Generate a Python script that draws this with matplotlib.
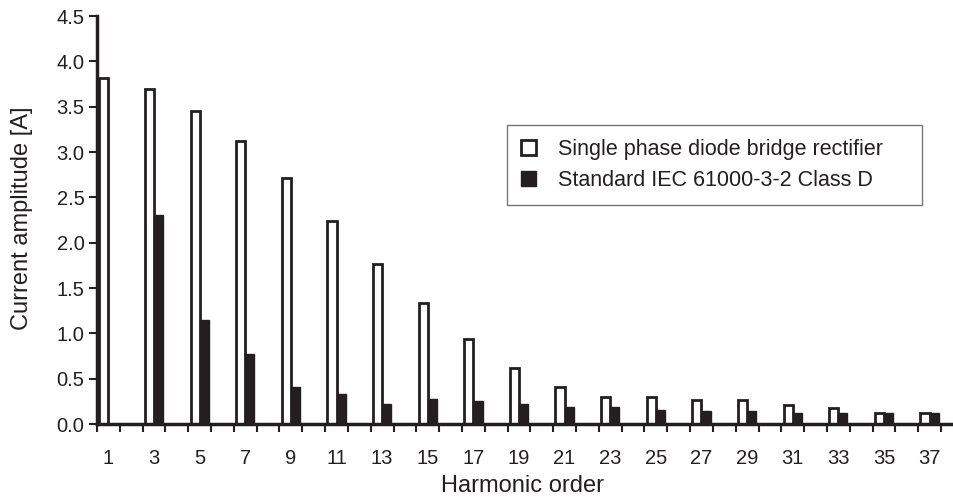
import numpy as np
import matplotlib
matplotlib.use('Agg')
from matplotlib import pyplot as plt
from matplotlib.patches import Patch

plt.rcParams['font.family'] = ['Liberation Sans', 'DejaVu Sans']

# harmonic data (odd orders only)
harmonics = [1, 3, 5, 7, 9, 11, 13, 15, 17, 19, 21, 23, 25, 27, 29, 31, 33, 35, 37]
rectifier = [3.82, 3.70, 3.45, 3.12, 2.71, 2.24, 1.77, 1.33, 0.94, 0.62,
             0.41, 0.30, 0.30, 0.27, 0.27, 0.21, 0.18, 0.12, 0.12]
iec_class_d = [0.0, 2.30, 1.15, 0.77, 0.41, 0.33, 0.22, 0.28, 0.25, 0.22,
               0.19, 0.19, 0.15, 0.14, 0.14, 0.12, 0.12, 0.12, 0.12]
yticks = [0.0, 0.5, 1.0, 1.5, 2.0, 2.5, 3.0, 3.5, 4.0, 4.5]

dark = '#231f20'

fig = plt.figure(figsize=(9.54, 5.01), dpi=100)
ax = fig.add_axes([97/954, 1-424/501, 1-97/954, (424-16)/501])

x = np.array(harmonics)
w = 0.4
ax.bar(x - w/2, rectifier, width=w, facecolor='white', edgecolor=dark, linewidth=2.0, zorder=2)
ax.bar(x + w/2, iec_class_d, width=w, facecolor=dark, edgecolor=dark, linewidth=1.0, zorder=3)

ax.set_xlim(0.5, 38.07)
ax.set_ylim(0, 4.5)
ax.set_yticks(yticks)
ax.set_yticklabels(['%.1f' % v for v in yticks])
ax.set_xticks(harmonics)
ax.set_xticklabels([str(h) for h in harmonics])
ax.set_xticks(np.arange(0.5, 38, 1.0), minor=True)
ax.tick_params(axis='x', which='major', length=0, pad=18, labelsize=14.5, colors=dark)
ax.tick_params(axis='x', which='minor', length=6, width=1.5, color=dark, direction='out')
ax.tick_params(axis='y', length=6, width=1.5, color=dark, labelsize=14.5, labelcolor=dark, pad=3)

for s in ['top', 'right']:
    ax.spines[s].set_visible(False)
for s in ['left', 'bottom']:
    ax.spines[s].set_linewidth(2.5)
    ax.spines[s].set_color(dark)

ax.set_xlabel('Harmonic order', fontsize=17, color=dark)
ax.set_ylabel('Current amplitude [A]', fontsize=17, color=dark)
ax.xaxis.set_label_coords((523-97)/(954-97), -(486-424)/408, transform=ax.transAxes)
ax.yaxis.set_label_coords(-(97-22)/(954-97), (424-218)/408, transform=ax.transAxes)
ax.xaxis.label.set_va('center')
ax.yaxis.label.set_va('center')

handles = [Patch(facecolor='white', edgecolor=dark, linewidth=2.0),
           Patch(facecolor=dark, edgecolor=dark)]
leg = fig.legend(handles, ['Single phase diode bridge rectifier', 'Standard IEC 61000-3-2 Class D'],
                 loc='upper left', mode='expand',
                 bbox_to_anchor=(507/954, 1-205/501, (922-507)/954, 80/501), fontsize=15.5,
                 frameon=True, fancybox=False, handlelength=0.7, handleheight=0.7,
                 handletextpad=1.0, borderpad=0.65, labelspacing=0.45, borderaxespad=0)
leg.get_frame().set_edgecolor('#555555')
leg.get_frame().set_linewidth(1.0)
for t in leg.get_texts():
    t.set_color(dark)

fig.savefig('out.png', dpi=100)
